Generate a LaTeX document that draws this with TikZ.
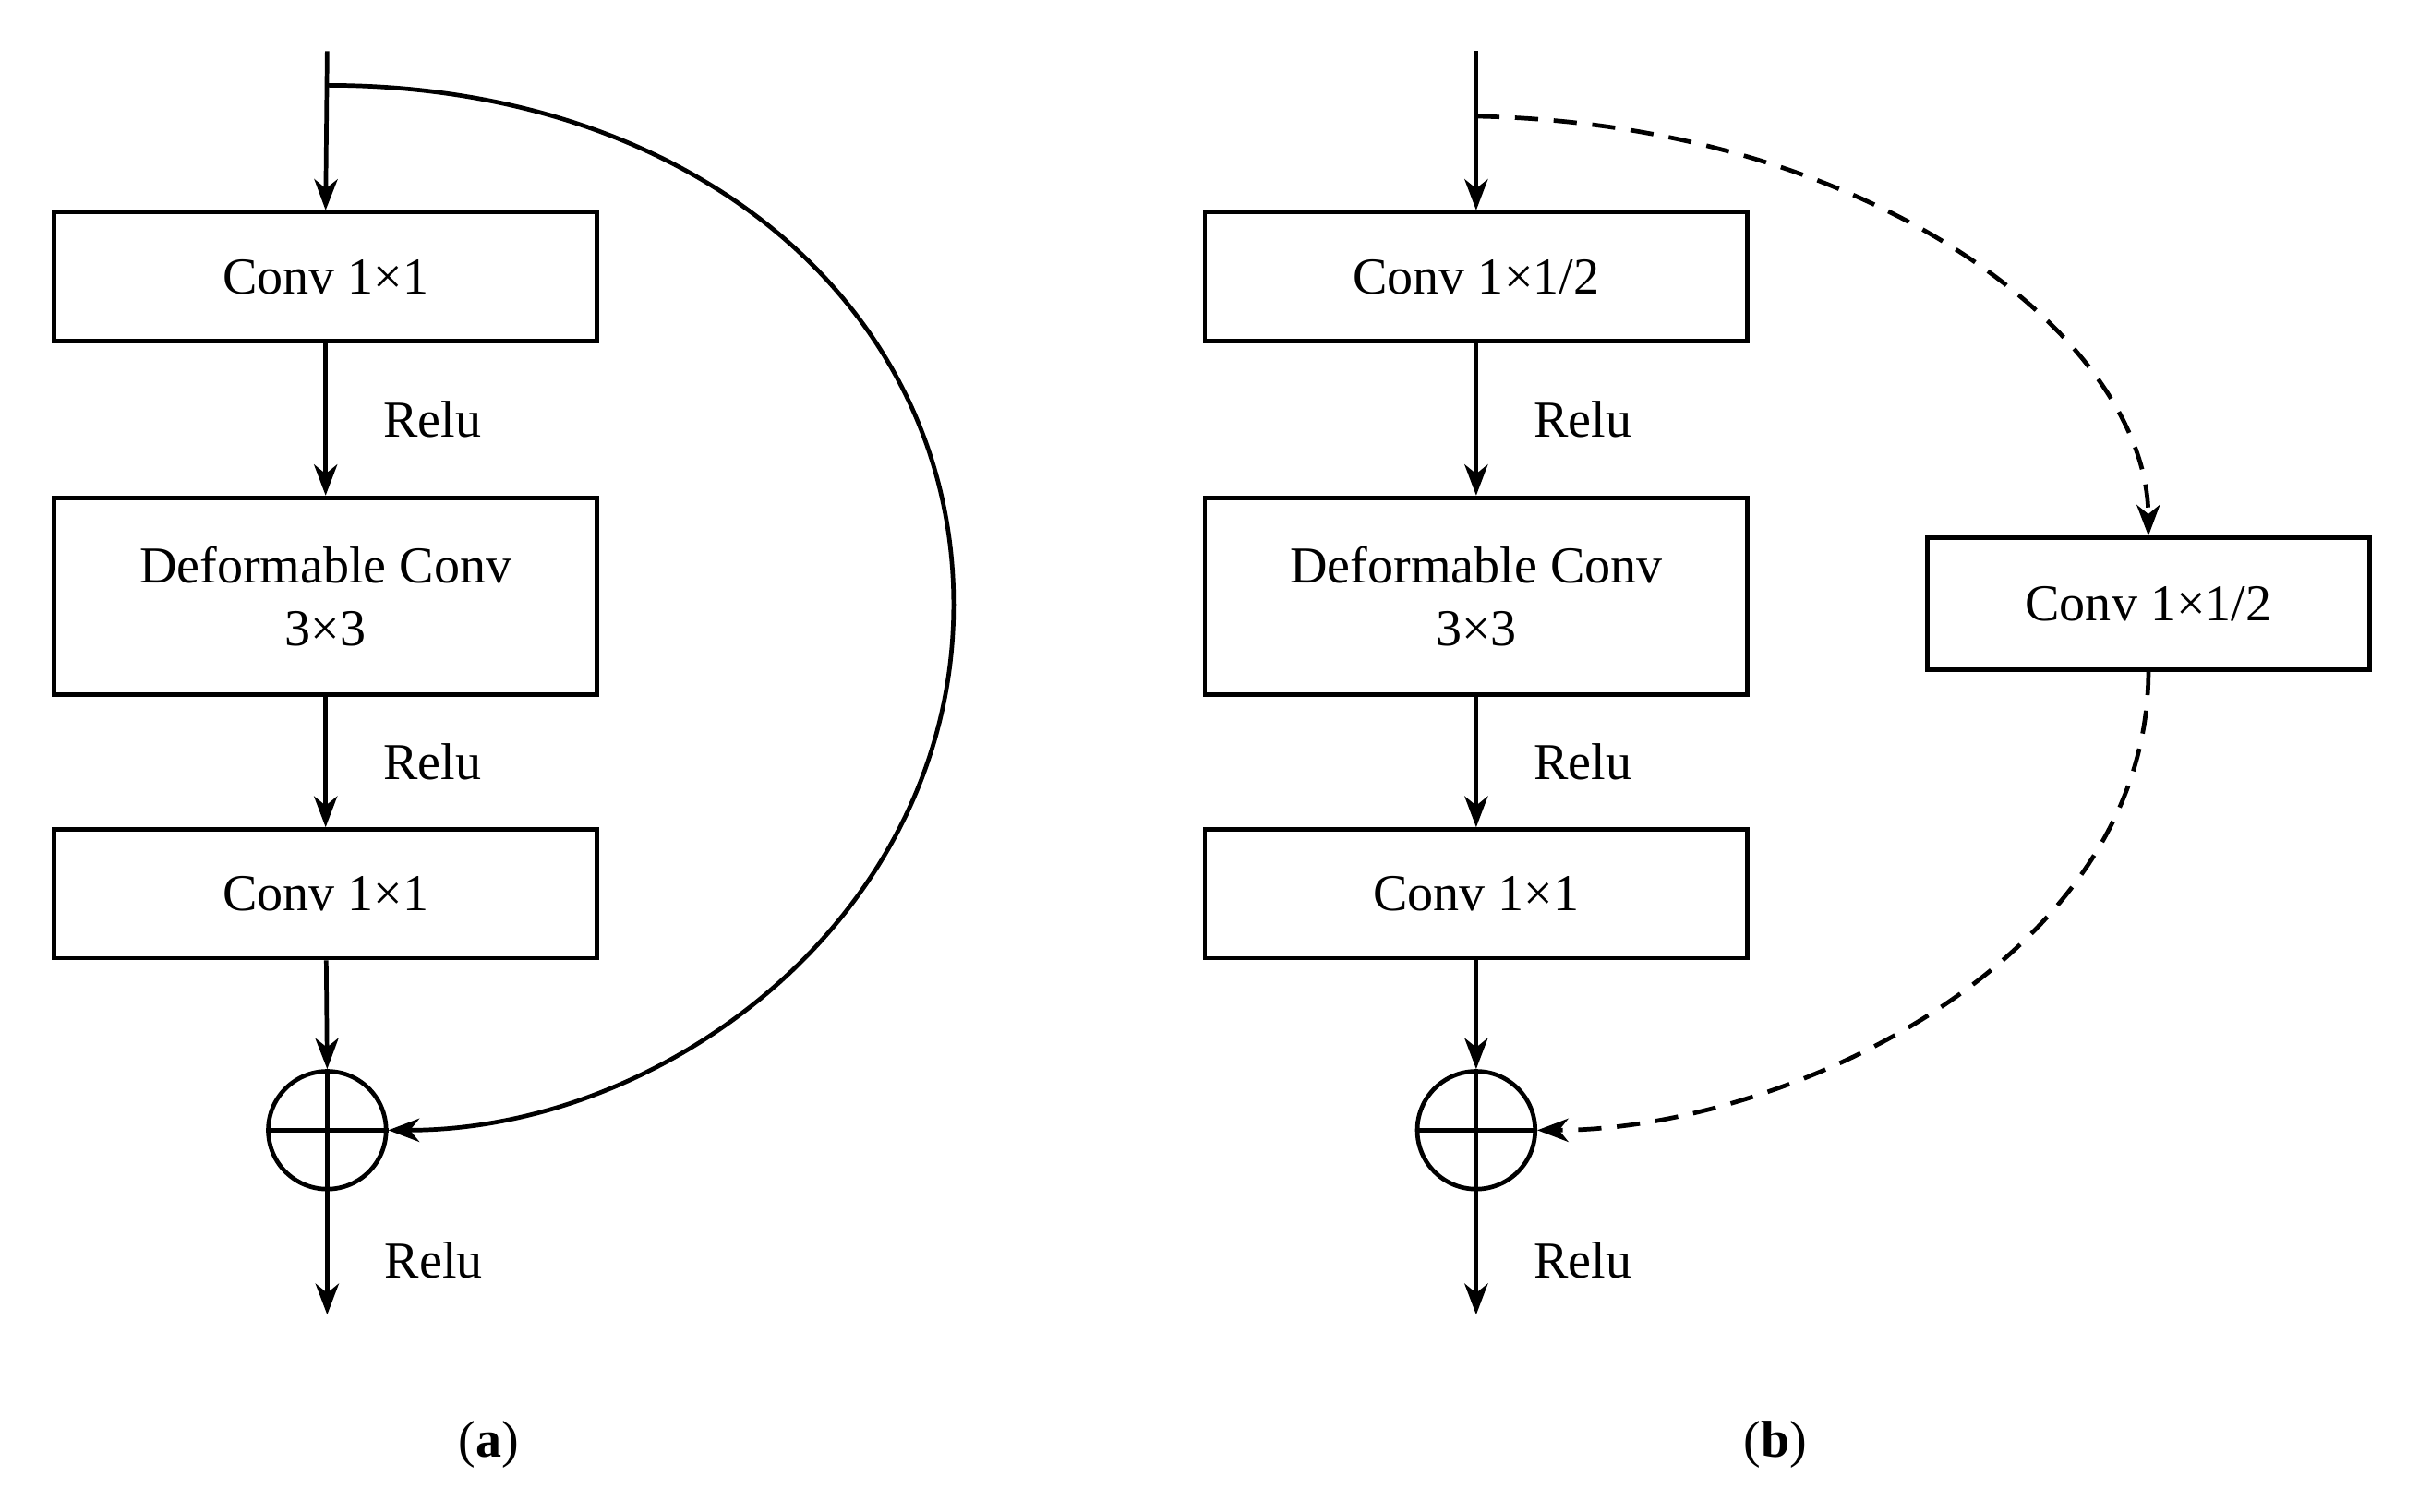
\documentclass[tikz,border=0pt]{standalone}
\usepackage{fontspec}
\setmainfont{Liberation Serif}
\usetikzlibrary{arrows.meta}
\begin{document}
\begin{tikzpicture}[x=0.02cm,y=-0.02cm,
 every node/.style={font=\fontsize{19}{23}\selectfont},
 box/.style={draw,line width=1.6pt,minimum width=7cm,inner sep=0pt,align=center},
 sum/.style={draw,circle,line width=1.6pt,minimum size=1.52cm,inner sep=0pt},
 ar/.style={line width=1.6pt,-{Stealth[length=0.4cm,width=0.3cm,inset=0.12cm]}},
 lab/.style={anchor=west}]
\useasboundingbox (0,0) rectangle (1560,975);
% (a)
\coordinate (ain) at (211,33);
\coordinate (atap) at (211,55);
\node[box,minimum height=1.66cm] (a1) at (210,178.5) {Conv 1×1};
\node[box,minimum height=2.54cm] (a2) at (210,384.5) {Deformable Conv\\3×3};
\node[box,minimum height=1.66cm] (a3) at (210,576.5) {Conv 1×1};
\node[sum] (as) at (211,729) {};
\draw[line width=1.6pt] (as.north)--(as.south) (as.west)--(as.east);
\coordinate (aout) at (211,848);
\draw[ar] (ain)--(a1.north);
\draw[ar] (a1)--(a2) node[lab,midway,xshift=0.6cm] {Relu};
\draw[ar] (a2)--(a3) node[lab,midway,xshift=0.6cm] {Relu};
\draw[ar] (a3)--(as.north);
\draw[ar] (as.south)--(aout) node[lab,midway,xshift=0.6cm,yshift=-0.1cm] {Relu};
\draw[ar] (atap) .. controls (450,55) and (615,200) .. (615,390) .. controls (615,590) and (430,729) .. (as.east);
\node at (315,932) {(\textbf{a})};
% (b)
\coordinate (bin) at (952,33);
\coordinate (btap) at (952,75);
\node[box,minimum height=1.66cm] (b1) at (952,178.5) {Conv 1×1/2};
\node[box,minimum height=2.54cm] (b2) at (952,384.5) {Deformable Conv\\3×3};
\node[box,minimum height=1.66cm] (b3) at (952,576.5) {Conv 1×1};
\node[box,minimum width=5.7cm,minimum height=1.7cm] (bs) at (1385.5,389.5) {Conv 1×1/2};
\node[sum] (bsum) at (952,729) {};
\draw[line width=1.6pt] (bsum.north)--(bsum.south) (bsum.west)--(bsum.east);
\coordinate (bout) at (952,848);
\draw[ar] (bin)--(b1.north);
\draw[ar] (b1)--(b2) node[lab,midway,xshift=0.6cm] {Relu};
\draw[ar] (b2)--(b3) node[lab,midway,xshift=0.6cm] {Relu};
\draw[ar] (b3)--(bsum.north);
\draw[ar] (bsum.south)--(bout) node[lab,midway,xshift=0.6cm,yshift=-0.1cm] {Relu};
\draw[ar,dashed,dash pattern=on 0.3cm off 0.2cm] (btap) .. controls (1210,80) and (1385,220) .. (bs.north);
\draw[ar,dashed,dash pattern=on 0.3cm off 0.2cm] (bs.south) .. controls (1385,620) and (1150,729) .. (bsum.east);
\node at (1145,932) {(\textbf{b})};
\end{tikzpicture}
\end{document}
